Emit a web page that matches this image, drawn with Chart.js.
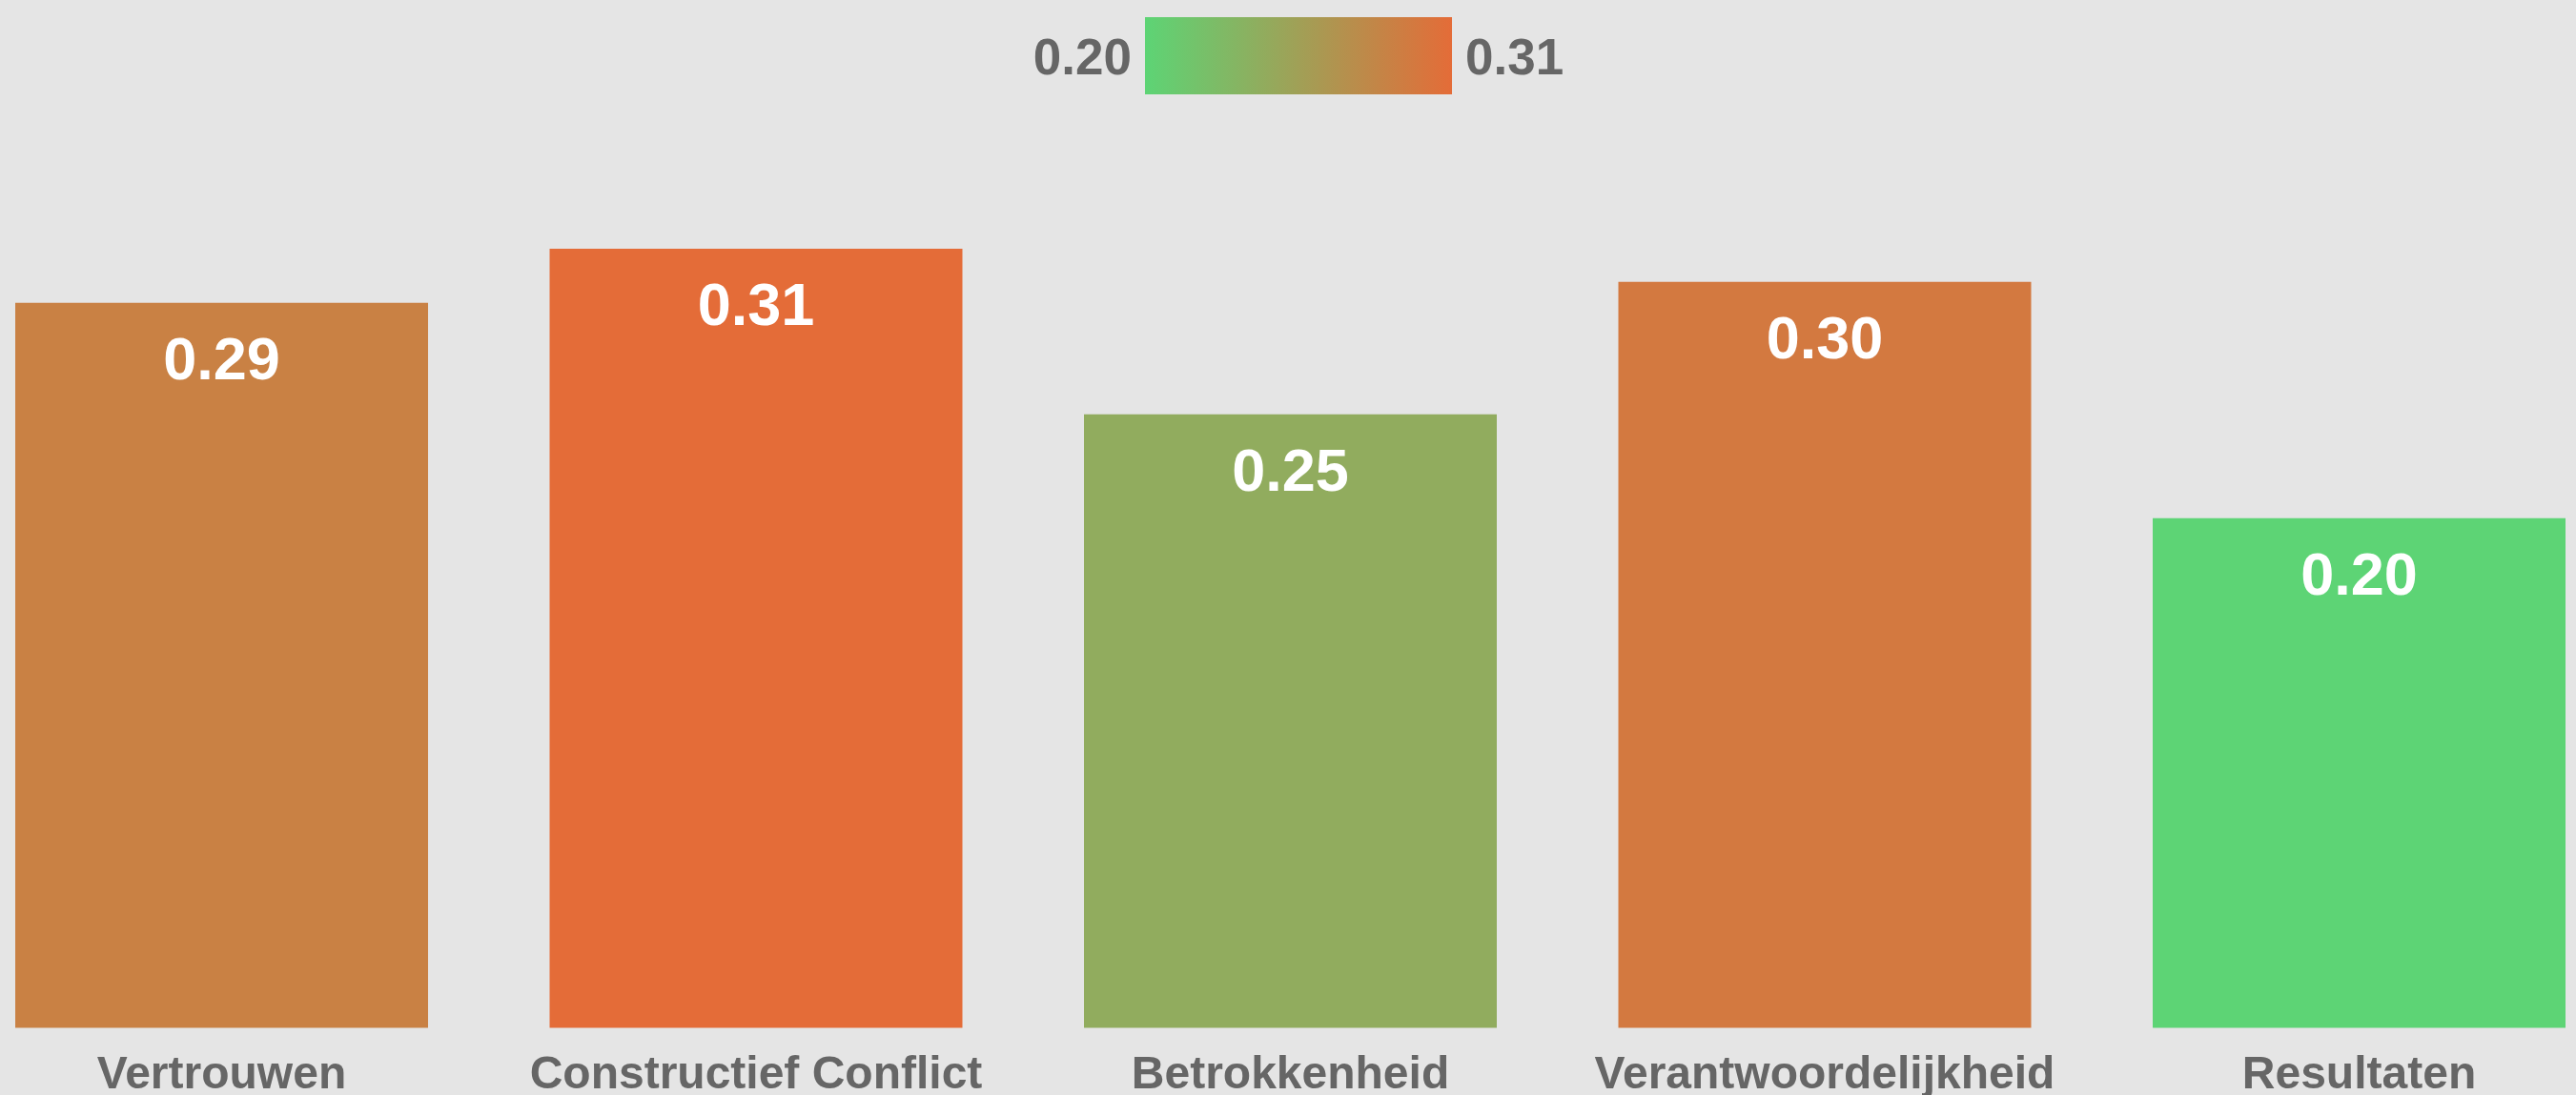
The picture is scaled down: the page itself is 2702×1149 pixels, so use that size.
<!DOCTYPE html>
<html><head><meta charset="utf-8">
<script src="https://cdn.jsdelivr.net/npm/chart.js@4.4.1/dist/chart.umd.min.js"></script>
<style>html,body{margin:0;padding:0;background:#e5e5e5;overflow:hidden}canvas{display:block}</style>
</head><body>
<canvas id="c" width="2702" height="1149"></canvas>
<script>
const categories = ['Vertrouwen', 'Constructief Conflict', 'Betrokkenheid', 'Verantwoordelijkheid', 'Resultaten'];
const values = [0.2905, 0.3122, 0.2458, 0.2989, 0.2042];
const colorLow = [93, 212, 117];
const colorHigh = [228, 108, 56];
const vMin = Math.min(...values);
const vMax = Math.max(...values);
const legendTicks = [vMin.toFixed(2), vMax.toFixed(2)];

const FONT = "'Liberation Sans', Arial, sans-serif";

function mix(t) {
  const c = colorLow.map((lo, i) => Math.round(lo + (colorHigh[i] - lo) * t));
  return `rgb(${c[0]},${c[1]},${c[2]})`;
}
const barColors = values.map(v => mix((v - vMin) / (vMax - vMin)));

const bgPlugin = {
  id: 'bg',
  beforeDraw(chart) {
    const ctx = chart.ctx;
    ctx.save();
    ctx.fillStyle = '#e5e5e5';
    ctx.fillRect(0, 0, chart.width, chart.height);
    ctx.restore();
  }
};

const valueLabels = {
  id: 'valueLabels',
  afterDatasetsDraw(chart) {
    const ctx = chart.ctx;
    const meta = chart.getDatasetMeta(0);
    ctx.save();
    ctx.fillStyle = '#ffffff';
    ctx.font = `bold 63px ${FONT}`;
    ctx.textAlign = 'center';
    ctx.textBaseline = 'alphabetic';
    meta.data.forEach((bar, i) => {
      ctx.fillText(values[i].toFixed(2), bar.x, bar.y + 80);
    });
    ctx.restore();
  }
};

const gradientLegend = {
  id: 'gradientLegend',
  afterDraw(chart) {
    const ctx = chart.ctx;
    const w = 322, h = 81, top = 18;
    const left = chart.width / 2 - 150;
    ctx.save();
    const g = ctx.createLinearGradient(left, 0, left + w, 0);
    g.addColorStop(0, mix(0));
    g.addColorStop(1, mix(1));
    ctx.fillStyle = g;
    ctx.fillRect(left, top, w, h);
    ctx.fillStyle = '#666666';
    ctx.font = `bold 53px ${FONT}`;
    ctx.textBaseline = 'alphabetic';
    ctx.textAlign = 'right';
    ctx.fillText(legendTicks[0], left - 14, 78);
    ctx.textAlign = 'left';
    ctx.fillText(legendTicks[1], left + w + 14, 78);
    ctx.restore();
  }
};

new Chart(document.getElementById('c'), {
  type: 'bar',
  data: {
    labels: categories,
    datasets: [{
      data: values,
      backgroundColor: barColors,
      borderWidth: 0,
      barPercentage: 0.7725,
      categoryPercentage: 1,
      clip: false
    }]
  },
  options: {
    responsive: false,
    animation: false,
    layout: { padding: { left: 232.5, right: 227.5, top: 31, bottom: -31 } },
    plugins: { legend: { display: false }, tooltip: { enabled: false } },
    scales: {
      x: {
        offset: false,
        grid: { display: false, drawTicks: false },
        border: { display: false },
        ticks: {
          color: '#666666',
          font: { size: 48, weight: 'bold', family: FONT },
          padding: 22,
          maxRotation: 0,
          autoSkip: false
        }
      },
      y: { display: false, min: 0, max: 0.4 }
    }
  },
  plugins: [bgPlugin, valueLabels, gradientLegend]
});
</script>
</body></html>
